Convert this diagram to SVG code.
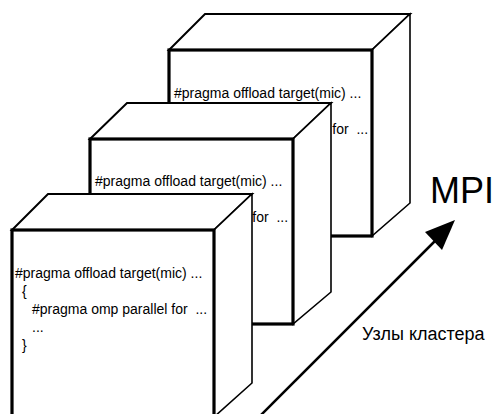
<svg xmlns="http://www.w3.org/2000/svg" width="495" height="414" viewBox="0 0 495 414">
<style>
.top{fill:#fff;stroke:#000;stroke-width:2;stroke-linejoin:miter}
.side{fill:#fff;stroke:#000;stroke-width:1.6}
.front{fill:#fff;stroke:#000;stroke-width:3.2}
.code{font-family:"Liberation Sans",Arial,sans-serif;font-size:14px;fill:#000;white-space:pre}
.lbl{font-family:"Liberation Sans",Arial,sans-serif;fill:#000}
</style>
<g id="node3">
<polygon class="top" points="169,50 205,14 410,14 372,50"/>
<polygon class="side" points="372,50 410,14 410,203 372,236"/>
<rect class="front" x="169" y="50" width="203" height="186"/>
<text class="code" x="174" y="98">#pragma offload target(mic) ...</text>
<text class="code" x="181" y="116">{</text>
<text class="code" x="193" y="134" xml:space="preserve">#pragma omp parallel for  ...</text>
<text class="code" x="193" y="152">...</text>
<text class="code" x="181" y="170">}</text>
</g>
<g id="node2">
<polygon class="top" points="90,139 127,103 331,103 293,139"/>
<polygon class="side" points="293,139 331,103 331,292 293,324"/>
<rect class="front" x="90" y="139" width="203" height="185"/>
<text class="code" x="95" y="186">#pragma offload target(mic) ...</text>
<text class="code" x="102" y="204">{</text>
<text class="code" x="113" y="222" xml:space="preserve">#pragma omp parallel for  ...</text>
<text class="code" x="113" y="240">...</text>
<text class="code" x="102" y="258">}</text>
</g>
<g id="node1">
<polygon class="top" points="12,230 48,194 252,194 214,230"/>
<polygon class="side" points="214,230 252,194 252,383 214,417"/>
<rect class="front" x="12" y="230" width="202" height="188"/>
<text class="code" x="15" y="278">#pragma offload target(mic) ...</text>
<text class="code" x="22" y="296">{</text>
<text class="code" x="32" y="314" xml:space="preserve">#pragma omp parallel for  ...</text>
<text class="code" x="32" y="332">...</text>
<text class="code" x="22" y="350">}</text>
</g>
<g id="connectors">
<line x1="258" y1="418" x2="440" y2="236" stroke="#000" stroke-width="2.5"/>
<polygon points="455,220 442,250 425,232" fill="#000"/>
</g>
<text class="lbl" x="430" y="203" font-size="36">MPI</text>
<text class="lbl" x="362" y="340" font-size="18">Узлы кластера</text>
</svg>
